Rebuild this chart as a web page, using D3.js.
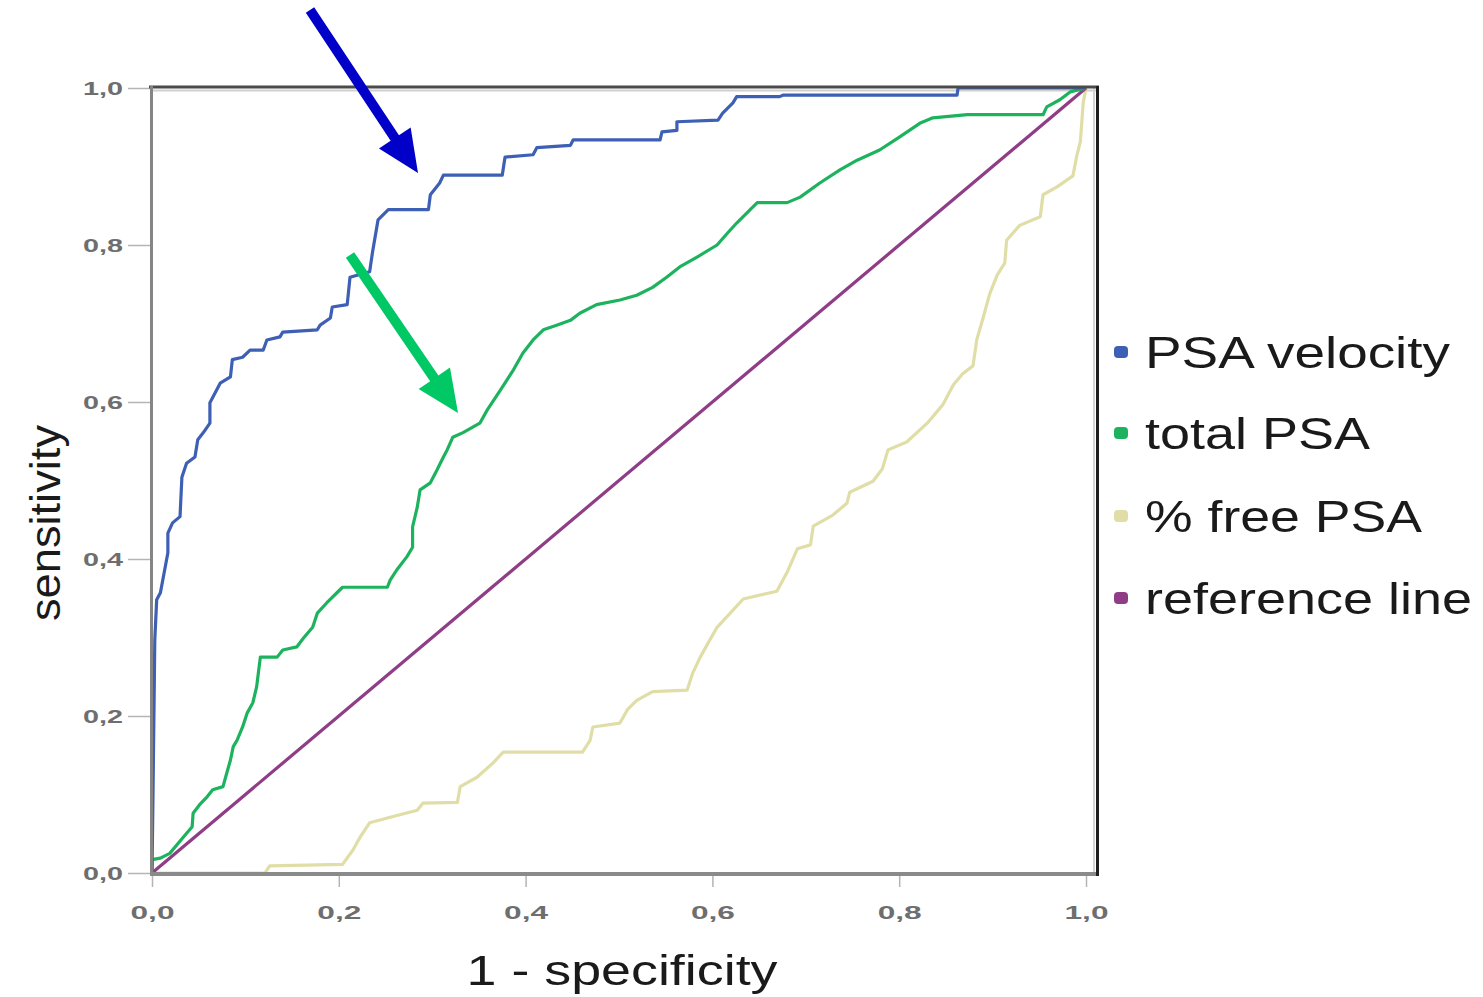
<!DOCTYPE html>
<html><head><meta charset="utf-8">
<script src="https://cdn.jsdelivr.net/npm/d3@7"></script>
<style>html,body{margin:0;padding:0;background:#fff}svg{display:block}</style>
</head><body>
<svg id="c" width="1483" height="997"></svg>
<script>
// ---- data ----
const ticks = [0, 0.2, 0.4, 0.6, 0.8, 1.0];
const tickLabels = ["0,0", "0,2", "0,4", "0,6", "0,8", "1,0"];
const seriesNames = ["PSA velocity", "total PSA", "% free PSA", "reference line"];

const velocityFpr = [0,0.001,0.003,0.005,0.009,0.017,0.017,0.022,0.030,0.032,0.037,0.046,0.049,0.055,0.062,0.062,0.073,0.084,0.086,0.097,0.105,0.119,0.123,0.137,0.140,0.177,0.180,0.191,0.193,0.209,0.212,0.233,0.236,0.242,0.253,0.296,0.298,0.308,0.312,0.375,0.378,0.408,0.412,0.448,0.451,0.544,0.546,0.562,0.562,0.606,0.611,0.622,0.626,0.672,0.676,0.862,0.863,1.0];
const velocityTpr = [0,0.093,0.297,0.348,0.357,0.408,0.433,0.446,0.454,0.504,0.522,0.530,0.552,0.561,0.573,0.599,0.624,0.632,0.654,0.657,0.666,0.666,0.679,0.683,0.689,0.692,0.698,0.707,0.721,0.724,0.759,0.766,0.790,0.832,0.845,0.845,0.864,0.879,0.889,0.889,0.912,0.915,0.924,0.927,0.934,0.934,0.944,0.946,0.957,0.959,0.968,0.981,0.989,0.989,0.991,0.991,1.0,1.0];

const totalFpr = [0,0,0.009,0.019,0.033,0.043,0.044,0.051,0.059,0.065,0.076,0.080,0.084,0.087,0.091,0.097,0.102,0.108,0.112,0.116,0.134,0.140,0.155,0.162,0.172,0.177,0.187,0.198,0.204,0.252,0.255,0.262,0.273,0.279,0.279,0.284,0.287,0.298,0.305,0.312,0.316,0.322,0.333,0.351,0.359,0.373,0.387,0.397,0.408,0.419,0.434,0.448,0.458,0.476,0.501,0.519,0.536,0.551,0.565,0.584,0.605,0.616,0.626,0.637,0.648,0.680,0.694,0.715,0.737,0.755,0.779,0.801,0.822,0.836,0.873,0.954,0.958,0.972,0.983,1.0];
const totalTpr = [0,0.017,0.019,0.025,0.045,0.059,0.076,0.087,0.097,0.106,0.110,0.127,0.144,0.161,0.169,0.186,0.204,0.217,0.237,0.275,0.275,0.284,0.288,0.299,0.313,0.331,0.344,0.357,0.364,0.364,0.373,0.386,0.403,0.415,0.441,0.466,0.488,0.497,0.513,0.530,0.539,0.555,0.561,0.573,0.590,0.615,0.641,0.662,0.679,0.692,0.698,0.704,0.713,0.724,0.730,0.736,0.746,0.759,0.772,0.785,0.800,0.815,0.828,0.841,0.854,0.854,0.861,0.879,0.896,0.908,0.921,0.938,0.955,0.962,0.966,0.966,0.976,0.985,0.995,1.0];

const freeFpr = [0,0.121,0.126,0.204,0.215,0.223,0.233,0.255,0.284,0.290,0.327,0.330,0.348,0.365,0.376,0.461,0.469,0.472,0.501,0.509,0.519,0.536,0.573,0.579,0.587,0.594,0.605,0.633,0.669,0.680,0.691,0.705,0.708,0.729,0.744,0.747,0.772,0.782,0.788,0.808,0.830,0.847,0.858,0.868,0.879,0.883,0.890,0.897,0.905,0.913,0.915,0.929,0.951,0.954,0.969,0.986,0.990,0.994,0.997,1.0];
const freeTpr = [0,0,0.009,0.011,0.029,0.046,0.064,0.071,0.080,0.089,0.090,0.110,0.122,0.140,0.154,0.154,0.169,0.186,0.191,0.208,0.220,0.231,0.233,0.255,0.275,0.290,0.313,0.349,0.359,0.383,0.413,0.418,0.442,0.456,0.471,0.485,0.499,0.515,0.539,0.549,0.573,0.597,0.622,0.636,0.646,0.679,0.708,0.738,0.762,0.777,0.806,0.825,0.836,0.864,0.874,0.888,0.913,0.932,0.981,1.0];

const refFpr = [0, 1];
const refTpr = [0, 1];

const colors = ["#3d5fb4", "#1db35e", "#e0dea6", "#8e3d86"];

// ---- drawing ----
const FONT = "Liberation Sans, Arial, sans-serif";
const svg = d3.select("#c");
const x = d3.scaleLinear().domain([0, 1]).range([152, 1086]);
const y = d3.scaleLinear().domain([0, 1]).range([873, 88]);

// frame shadows
svg.append("line").attr("x1",150).attr("x2",1097).attr("y1",90.5).attr("y2",90.5).attr("stroke","#cfcfcf").attr("stroke-width",2);
svg.append("line").attr("x1",1094).attr("x2",1094).attr("y1",88).attr("y2",874).attr("stroke","#d4d4d4").attr("stroke-width",2);

// axes
const yAxis = d3.axisLeft(y).tickValues(ticks).tickFormat((d,i)=>tickLabels[i]).tickSize(22).tickPadding(5);
const gy = svg.append("g").attr("transform","translate(150,0)").call(yAxis);
gy.select(".domain").remove();
gy.selectAll(".tick line").attr("stroke","#b4b4b4").attr("stroke-width",1.5);
gy.selectAll(".tick text").attr("fill","#6e6e6e").style("font-family",FONT).style("font-size","19px").style("font-weight","bold")
  .attr("textLength",40).attr("lengthAdjust","spacingAndGlyphs");

const xAxis = d3.axisBottom(x).tickValues(ticks).tickFormat((d,i)=>tickLabels[i]).tickSize(12).tickPadding(19);
const gx = svg.append("g").attr("transform","translate(0,875)").call(xAxis);
gx.select(".domain").remove();
gx.selectAll(".tick line").attr("stroke","#b4b4b4").attr("stroke-width",1.5);
gx.selectAll(".tick text").attr("fill","#6e6e6e").style("font-family",FONT).style("font-size","19px").style("font-weight","bold")
  .attr("textLength",44).attr("lengthAdjust","spacingAndGlyphs");

// curves
const line = d3.line().x(d=>x(d[0])).y(d=>y(d[1]));
const series = [
  d3.zip(freeFpr, freeTpr),
  d3.zip(refFpr, refTpr),
  d3.zip(totalFpr, totalTpr),
  d3.zip(velocityFpr, velocityTpr)
];
const seriesColors = [colors[2], colors[3], colors[1], colors[0]];
series.forEach((s,i)=>{
  svg.append("path").datum(s).attr("d", line).attr("fill","none")
    .attr("stroke", seriesColors[i]).attr("stroke-width", 3.2).attr("stroke-linejoin","round");
});

// frame borders
svg.append("line").attr("x1",149).attr("x2",1099).attr("y1",87).attr("y2",87).attr("stroke","#4a4a4a").attr("stroke-width",3);
svg.append("line").attr("x1",151.5).attr("x2",151.5).attr("y1",86).attr("y2",876).attr("stroke","#858585").attr("stroke-width",3);
svg.append("line").attr("x1",150).attr("x2",1099).attr("y1",874).attr("y2",874).attr("stroke","#8a8a8a").attr("stroke-width",4);
svg.append("line").attr("x1",1097.5).attr("x2",1097.5).attr("y1",86).attr("y2",876).attr("stroke","#1e1e1e").attr("stroke-width",3);

// axis titles
svg.append("text").attr("transform","translate(60,523) rotate(-90)").attr("text-anchor","middle")
  .style("font-family",FONT).style("font-size","42px").attr("fill","#1a1a1a")
  .attr("textLength",196).attr("lengthAdjust","spacingAndGlyphs").text("sensitivity");
svg.append("text").attr("x",622).attr("y",985).attr("text-anchor","middle")
  .style("font-family",FONT).style("font-size","43px").attr("fill","#1a1a1a")
  .attr("textLength",311).attr("lengthAdjust","spacingAndGlyphs").text("1 - specificity");

// legend
const legY = [352, 433, 516, 598];
const legLen = [305, 225, 277, 327];
seriesNames.forEach((n,i)=>{
  svg.append("rect").attr("x",1114).attr("y",legY[i]-6).attr("width",14).attr("height",12).attr("rx",4)
    .attr("fill", colors[i]);
  svg.append("text").attr("x",1145).attr("y",legY[i]).attr("dy","0.36em")
    .style("font-family",FONT).style("font-size","44px").attr("fill","#1a1a1a")
    .attr("textLength",legLen[i]).attr("lengthAdjust","spacingAndGlyphs").text(n);
});

// arrows
function arrow(x1,y1,x2,y2,color){
  const ang = Math.atan2(y2-y1,x2-x1);
  const hl = 42, hw = 19, sw = 5;
  const bx = x2 - hl*Math.cos(ang), by = y2 - hl*Math.sin(ang);
  const px = -Math.sin(ang), py = Math.cos(ang);
  const pts = [
    [x1+px*sw, y1+py*sw],[bx+px*sw, by+py*sw],[bx+px*hw, by+py*hw],[x2,y2],
    [bx-px*hw, by-py*hw],[bx-px*sw, by-py*sw],[x1-px*sw, y1-py*sw]
  ];
  svg.append("polygon").attr("points", pts.map(p=>p.join(",")).join(" ")).attr("fill", color);
}
arrow(310, 10, 418, 173, "#0000c8");
arrow(350, 255, 458, 413, "#00c864");
</script>
</body></html>
